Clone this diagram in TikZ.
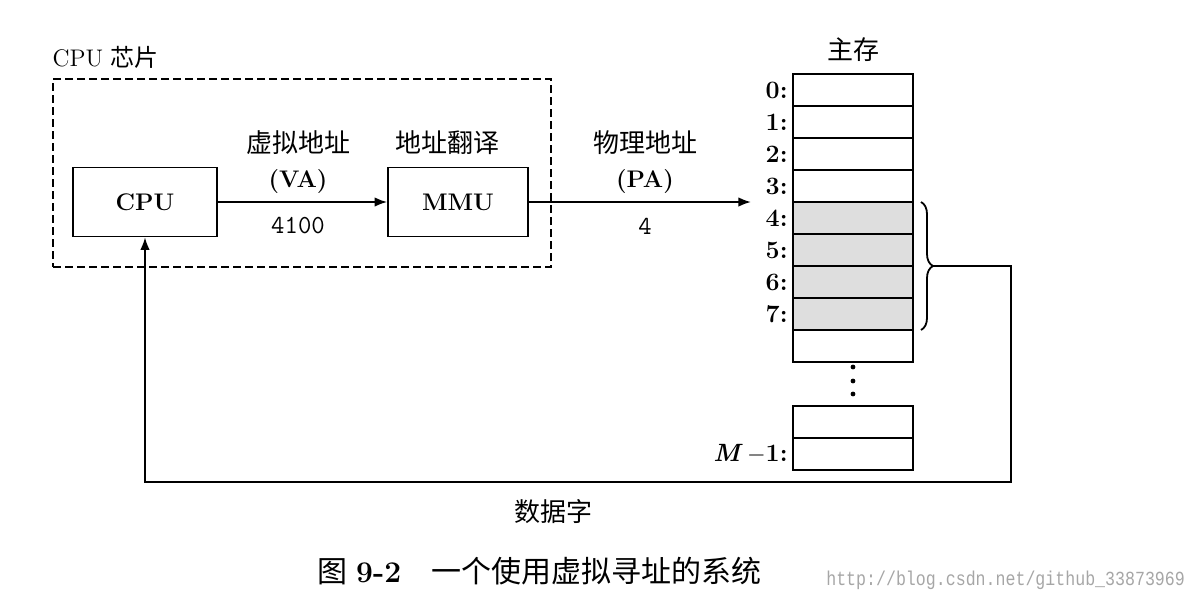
\documentclass[tikz,border=0pt]{standalone}
\usepackage{fontspec}
\usepackage{graphicx}
\newfontfamily\cjk{Noto Sans CJK SC}
\newfontfamily\wmfont{Liberation Mono}
\usetikzlibrary{arrows.meta,positioning,decorations.pathreplacing}

\begin{document}
\begin{tikzpicture}[x=0.5pt,y=-0.5pt,font=\fontsize{12}{14}\selectfont,>={Latex[length=2.2mm]},
  unit/.style={draw,line width=0.8pt,minimum width=72pt,minimum height=34.5pt,
               font=\fontsize{12}{14}\selectfont\bfseries},
  cell/.style={draw,line width=0.8pt,minimum width=60pt,minimum height=16pt,
               inner sep=0pt,outer sep=0pt},
  used/.style={cell,fill=black!13},
  addr/.style={left=1.5pt of #1,inner sep=1pt,font=\fontsize{12.5}{14}\selectfont\bfseries},
  zh/.style={font=\fontsize{13}{15}\selectfont\cjk},
  wire/.style={line width=0.9pt}]
  \useasboundingbox (0,0) rectangle (1201,602);
  % chip
  \node[draw,line width=0.8pt,dash pattern=on 4pt off 2pt,minimum width=249pt,
        minimum height=94pt,inner sep=0pt] (chip) at (302,173) {};
  \node[anchor=south west,inner sep=0pt] (chiplbl) at ([yshift=4.5pt]chip.north west)
    {CPU {\cjk 芯片}};
  \node[unit] (cpu) at (145,202) {CPU};
  \node[unit,minimum width=70pt] (mmu) at (458,202) {MMU};
  \node[zh] (mmulbl) at (447,143) {地址翻译};
  \draw[wire,->] (cpu) -- (mmu);
  \node[zh] (valbl) at (298,143) {虚拟地址};
  \node[font=\fontsize{12}{14}\selectfont\bfseries] (va) at (298,182) {(VA)};
  \node[font=\fontsize{13}{15}\selectfont\ttfamily] (vanum) at (298,226) {4100};
  % main memory
  \node[zh] (memlbl) at (853,50) {主存};
  \foreach \i/\st in {0/cell,1/cell,2/cell,3/cell,4/used,5/used,6/used,7/used,8/cell}
    \node[\st] (m\i) at (853,{90+32*\i}) {};
  \foreach \i in {0,...,7}
    \node[addr=m\i] (a\i) {\i:};
  \foreach \y in {367,381,394}
    \fill (853,\y) circle (1.2pt);
  \node[cell] (mA) at (853,422) {};
  \node[cell] (mB) at (853,454) {};
  \node[addr=mB] (aB) {\textit{M}\,$-$1:};
  % physical address
  \draw[wire,->] (mmu) -- ([xshift=-21pt]m4.north west);
  \node[zh] (palbl) at (645,143) {物理地址};
  \node[font=\fontsize{12}{14}\selectfont\bfseries] (pa) at (645,182) {(PA)};
  \node[font=\fontsize{13}{15}\selectfont\ttfamily] (panum) at (645,226) {4};
  % data word back to the cpu
  \draw[wire,decorate,decoration={brace,amplitude=6pt}]
    ([xshift=4pt]m4.north east) -- ([xshift=4pt]m7.south east);
  \coordinate (tip) at ([xshift=10pt]m5.south east);
  \coordinate (ret) at (1011,482);
  \draw[wire,->] (tip) -| (ret) -| (cpu.south);
  \node[zh] (wordlbl) at (553,512) {数据字};
  % caption
  \node[anchor=west,font=\fontsize{15}{17}\selectfont] (cap) at (310,571)
    {{\cjk 图} \textbf{9-2}\quad{\cjk 一个使用虚拟寻址的系统}};
  \node[anchor=east,text=black!35,font=\fontsize{10}{12}\selectfont\wmfont] (wm) at (1192,580)
    {\scalebox{0.83}[1]{http://blog.csdn.net/github\_33873969}};
\end{tikzpicture}
\end{document}
